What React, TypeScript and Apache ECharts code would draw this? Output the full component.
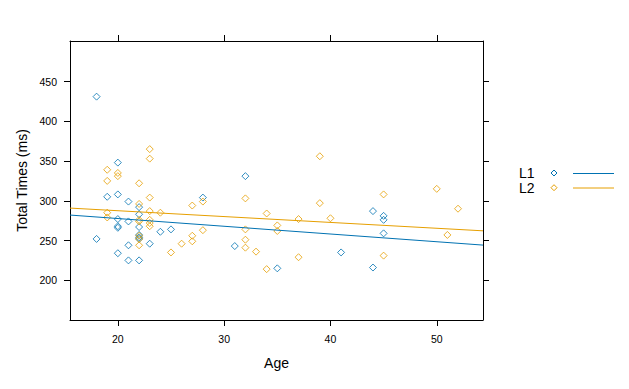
import React, { useEffect, useRef } from "react";
import * as echarts from "echarts";

// ---- data ----
const agesL1 = [18, 18, 19, 20, 20, 20, 20, 20, 20, 21, 21, 21, 21, 22, 22, 22, 22, 22, 22, 22, 23, 24, 25, 28, 31, 32, 35, 41, 44, 44, 45, 45, 45];
const timesL1 = [431, 252, 305, 348, 308, 277, 268, 266, 234, 299, 274, 244, 225, 292, 283, 267, 257, 254, 252, 225, 246, 261, 264, 304, 243, 331, 215, 235, 287, 216, 281, 276, 259];

const agesL2 = [19, 19, 19, 19, 20, 20, 22, 22, 22, 22, 22, 22, 22, 23, 23, 23, 23, 23, 23, 23, 24, 25, 26, 27, 27, 27, 28, 28, 32, 32, 32, 32, 33, 34, 34, 35, 35, 37, 37, 39, 39, 40, 45, 45, 50, 51, 52];
const timesL2 = [339, 325, 285, 279, 335, 331, 322, 296, 276, 274, 256, 252, 244, 365, 353, 304, 287, 276, 272, 268, 285, 235, 246, 294, 256, 249, 299, 263, 303, 264, 251, 241, 236, 284, 214, 269, 262, 277, 229, 356, 297, 278, 308, 231, 315, 257, 290];

// regression fits [intercept, slope]
const fitL1 = [297.1, -0.973];
const fitL2 = [302.2, -0.736];

const xTicks = [20, 30, 40, 50];
const yTicks = [200, 250, 300, 350, 400, 450];
const xRange = [15.5, 54.35];
const yRange = [150, 501];
const seriesNames = ["L1", "L2"];

const BLUE = "#0072B2";
const ORANGE = "#E69F00";
const FONT = "'Liberation Sans', Arial, sans-serif";

function pts(xs: number[], ys: number[]) {
  return xs.map((x, i) => [x, ys[i]]);
}
function fitLine(fit: number[]) {
  return xRange.map((x) => [x, fit[0] + fit[1] * x]);
}

export default function App() {
  const ref = useRef<HTMLDivElement>(null);
  useEffect(() => {
    if (!ref.current) return;
    const chart = echarts.init(ref.current, null, { renderer: "svg" });
    const axisCommon = {
      axisLine: { show: true, onZero: false, lineStyle: { color: "#000", width: 1 } },
      axisTick: { show: true, inside: false, length: 6, lineStyle: { color: "#000", width: 1 } },
      splitLine: { show: false },
    };
    const diamond = (color: string) => ({
      symbol: "diamond",
      symbolSize: 7,
      itemStyle: { color: "rgba(0,0,0,0)", borderColor: color, borderWidth: 1 },
    });
    const legendDiamond = (cx: number, cy: number, color: string) => ({
      type: "polygon",
      shape: { points: [[cx, cy - 3], [cx + 3, cy], [cx, cy + 3], [cx - 3, cy]] },
      style: { fill: "none", stroke: color, lineWidth: 1 },
    });
    chart.setOption({
      animation: false,
      backgroundColor: "#fff",
      textStyle: { fontFamily: FONT },
      grid: { left: 70, top: 41, width: 413, height: 279, show: false },
      xAxis: [
        {
          ...axisCommon,
          type: "value",
          position: "bottom",
          min: xRange[0],
          max: xRange[1],
          axisTick: { ...axisCommon.axisTick, customValues: xTicks },
          axisLabel: { customValues: xTicks, color: "#000", fontSize: 10.5, fontFamily: FONT, margin: 13 },
          name: "Age",
          nameLocation: "middle",
          nameGap: 36,
          nameTextStyle: { color: "#000", fontSize: 14, fontFamily: FONT },
        },
        {
          ...axisCommon,
          type: "value",
          position: "top",
          min: xRange[0],
          max: xRange[1],
          axisTick: { ...axisCommon.axisTick, customValues: xTicks },
          axisLabel: { show: false },
        },
      ],
      yAxis: [
        {
          ...axisCommon,
          type: "value",
          position: "left",
          min: yRange[0],
          max: yRange[1],
          axisTick: { ...axisCommon.axisTick, customValues: yTicks },
          axisLabel: { customValues: yTicks, color: "#000", fontSize: 10.5, fontFamily: FONT, margin: 13 },
          name: "Total Times (ms)",
          nameLocation: "middle",
          nameGap: 40,
          nameTextStyle: { color: "#000", fontSize: 14, fontFamily: FONT },
        },
        {
          ...axisCommon,
          type: "value",
          position: "right",
          min: yRange[0],
          max: yRange[1],
          axisTick: { ...axisCommon.axisTick, customValues: yTicks },
          axisLabel: { show: false },
        },
      ],
      series: [
        { name: seriesNames[0], type: "scatter", data: pts(agesL1, timesL1), ...diamond(BLUE) },
        { name: seriesNames[1], type: "scatter", data: pts(agesL2, timesL2), ...diamond(ORANGE) },
        {
          name: seriesNames[0] + " fit",
          type: "line",
          data: fitLine(fitL1),
          symbol: "none",
          clip: true,
          lineStyle: { color: BLUE, width: 1 },
        },
        {
          name: seriesNames[1] + " fit",
          type: "line",
          data: fitLine(fitL2),
          symbol: "none",
          clip: true,
          lineStyle: { color: ORANGE, width: 1 },
        },
      ],
      graphic: [
        {
          type: "text",
          left: 519,
          top: 166,
          style: { text: seriesNames[0], fill: "#000", fontSize: 14, fontFamily: FONT },
        },
        {
          type: "text",
          left: 519,
          top: 180.5,
          style: { text: seriesNames[1], fill: "#000", fontSize: 14, fontFamily: FONT },
        },
        legendDiamond(554, 173, BLUE),
        legendDiamond(554, 187.7, ORANGE),
        { type: "line", shape: { x1: 573, y1: 173.5, x2: 614, y2: 173.5 }, style: { stroke: BLUE, lineWidth: 1 } },
        { type: "line", shape: { x1: 573, y1: 188, x2: 614, y2: 188 }, style: { stroke: ORANGE, lineWidth: 1 } },
      ],
    });
    return () => chart.dispose();
  }, []);
  return (
    <div
      ref={ref}
      style={{ position: "fixed", left: 0, top: 0, width: 629, height: 389, background: "#fff" }}
    />
  );
}
